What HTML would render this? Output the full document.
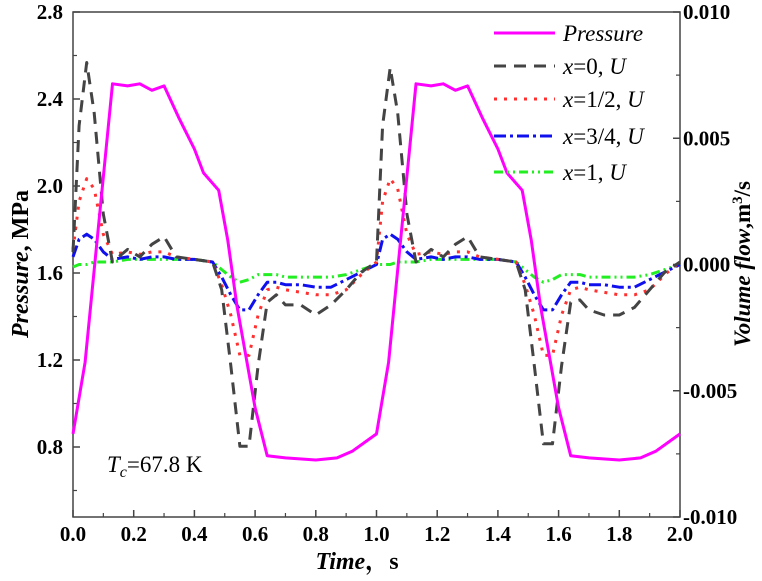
<!DOCTYPE html>
<html><head><meta charset="utf-8"><style>
body{margin:0;background:#fff;}
svg{display:block;font-family:"Liberation Serif","Noto Serif CJK SC",serif;}
.tk{font-size:21px;font-weight:bold;}
.lg{font-size:23px;}
</style></head><body>
<svg id="chart" width="762" height="581">
<rect x="73" y="12" width="607" height="505" fill="none" stroke="#444" stroke-width="1.5"/>
<g id="axes"></g>
<g id="series"></g>
<text x="357" y="569" text-anchor="middle" style="font-size:24px;font-weight:bold"><tspan font-style="italic">Time</tspan>，s</text>
<text transform="translate(28,264) rotate(-90)" text-anchor="middle" style="font-size:24px;font-weight:bold"><tspan font-style="italic">Pressure</tspan>, MPa</text>
<text transform="translate(750,264) rotate(-90)" text-anchor="middle" style="font-size:23px;font-weight:bold"><tspan font-style="italic">Volume flow</tspan>,m<tspan dy="-8" font-size="15">3</tspan><tspan dy="8">/s</tspan></text>
<text x="107" y="472" style="font-size:23px"><tspan font-style="italic">T</tspan><tspan font-style="italic" font-size="16" dy="5">c</tspan><tspan dy="-5">=67.8 K</tspan></text>
<g id="legend"></g>
</svg>
<script>
const timeP=[0,0.04,0.13,0.18,0.22,0.26,0.30,0.35,0.40,0.43,0.48,0.51,0.54,0.60,0.64,0.70,0.80,0.87,0.92,1.00,1.04,1.13,1.18,1.22,1.26,1.30,1.35,1.40,1.43,1.48,1.51,1.54,1.60,1.64,1.70,1.80,1.87,1.92,2.00];
const pressure=[0.86,1.19,2.47,2.46,2.47,2.44,2.46,2.31,2.17,2.06,1.98,1.75,1.45,0.98,0.76,0.75,0.74,0.75,0.78,0.86,1.19,2.47,2.46,2.47,2.44,2.46,2.31,2.17,2.06,1.98,1.75,1.45,0.98,0.76,0.75,0.74,0.75,0.78,0.86];
const timeU=[0,0.02,0.045,0.07,0.10,0.13,0.18,0.22,0.26,0.30,0.34,0.40,0.46,0.49,0.52,0.55,0.58,0.61,0.64,0.67,0.70,0.75,0.80,0.85,0.90,0.95,1.00,1.02,1.045,1.07,1.10,1.13,1.18,1.22,1.26,1.30,1.34,1.40,1.46,1.49,1.52,1.55,1.58,1.61,1.64,1.67,1.70,1.75,1.80,1.85,1.90,1.95,2.00];
const flowX0=[0.0005,0.0055,0.0080,0.0060,0.0020,0.0001,0.0006,0.0003,0.0008,0.0011,0.0003,0.0002,0.0001,-0.0010,-0.0040,-0.0072,-0.0072,-0.0040,-0.0015,-0.0012,-0.0016,-0.0016,-0.0020,-0.0016,-0.0010,-0.0003,0.0001,0.0055,0.0078,0.0060,0.0020,0.0001,0.0006,0.0003,0.0008,0.0011,0.0003,0.0002,0.0001,-0.0010,-0.0040,-0.0071,-0.0071,-0.0040,-0.0015,-0.0014,-0.0018,-0.0020,-0.0020,-0.0017,-0.0010,-0.0003,0.0001];
const flowX12=[0.0006,0.0025,0.0034,0.0030,0.0012,0.0004,0.0005,0.0004,0.0005,0.0005,0.0003,0.0002,0.0001,-0.0008,-0.0020,-0.0036,-0.0036,-0.0020,-0.0010,-0.0009,-0.0010,-0.0011,-0.0012,-0.0012,-0.0010,-0.0004,0.0001,0.0025,0.0034,0.0030,0.0012,0.0004,0.0005,0.0004,0.0005,0.0005,0.0003,0.0002,0.0001,-0.0008,-0.0020,-0.0036,-0.0036,-0.0020,-0.0010,-0.0009,-0.0010,-0.0011,-0.0012,-0.0012,-0.0010,-0.0004,0.0001];
const flowX34=[0.0003,0.0010,0.0012,0.0010,0.0005,0.0002,0.0003,0.0002,0.0003,0.0003,0.0002,0.0002,0.0001,-0.0005,-0.0012,-0.0018,-0.0018,-0.0012,-0.0007,-0.0007,-0.0008,-0.0008,-0.0009,-0.0009,-0.0006,-0.0003,0.0000,0.0010,0.0012,0.0010,0.0005,0.0002,0.0003,0.0002,0.0003,0.0003,0.0002,0.0002,0.0001,-0.0005,-0.0012,-0.0018,-0.0018,-0.0012,-0.0007,-0.0007,-0.0008,-0.0008,-0.0009,-0.0009,-0.0006,-0.0003,0.0000];
const flowX1=[-0.0001,0.0000,0.0000,0.0001,0.0001,0.0001,0.0002,0.0002,0.0002,0.0002,0.0002,0.0002,0.0001,-0.0002,-0.0005,-0.0007,-0.0006,-0.0004,-0.0004,-0.0004,-0.0005,-0.0005,-0.0005,-0.0005,-0.0004,-0.0002,0.0000,0.0000,0.0000,0.0001,0.0001,0.0001,0.0002,0.0002,0.0002,0.0002,0.0002,0.0002,0.0001,-0.0002,-0.0005,-0.0007,-0.0006,-0.0004,-0.0004,-0.0004,-0.0005,-0.0005,-0.0005,-0.0005,-0.0004,-0.0002,0.0000];
const xTicks=[0,0.2,0.4,0.6,0.8,1.0,1.2,1.4,1.6,1.8,2.0];
const yLeftTicks=[0.8,1.2,1.6,2.0,2.4,2.8];
const yRightTicks=[-0.010,-0.005,0,0.005,0.010];
const NS="http://www.w3.org/2000/svg";
const X=t=>73+t*303.5;
const YL=p=>12+(2.8-p)*217.5;
const YR=f=>12+(0.01-f)*25250;
function mk(tag,attrs,parent){const e=document.createElementNS(NS,tag);for(const k in attrs)e.setAttribute(k,attrs[k]);parent.appendChild(e);return e;}
const ax=document.getElementById('axes');
for(let i=0;i<xTicks.length;i++){
  const x=X(xTicks[i]);
  const t=mk('line',{x1:x,x2:x,y1:517,y2:510,stroke:'#444','stroke-width':1.5},ax);
  
  
  if(i<xTicks.length-1){const m=mk('line',{x1:X(xTicks[i]+0.1),x2:X(xTicks[i]+0.1),y1:517,y2:513,stroke:'#444','stroke-width':1.2},ax);
  
  }
  const l=mk('text',{x:x,y:541,'text-anchor':'middle',class:'tk'},ax);l.textContent=xTicks[i].toFixed(1);
  
  
}
for(const v of yLeftTicks){
  const y=YL(v);
  const t=mk('line',{x1:73,x2:80,y1:y,y2:y,stroke:'#444','stroke-width':1.5},ax);
  
  
  const m=mk('line',{x1:73,x2:77,y1:YL(v-0.2),y2:YL(v-0.2),stroke:'#444','stroke-width':1.2},ax);
  
  
  const l=mk('text',{x:63,y:y+7,'text-anchor':'end',class:'tk'},ax);l.textContent=v.toFixed(1);
  
  
}
for(const v of yRightTicks){
  const y=YR(v);
  const t=mk('line',{x1:673,x2:680,y1:y,y2:y,stroke:'#444','stroke-width':1.5},ax);
  
  
  if(v<0.01){const m=mk('line',{x1:676,x2:680,y1:YR(v+0.0025),y2:YR(v+0.0025),stroke:'#444','stroke-width':1.2},ax);
  
  }
  const l=mk('text',{x:683,y:y+7,class:'tk'},ax);l.textContent=v.toFixed(3);
  
  
}
const sg=document.getElementById('series');
function line(ts,vs,yf,color,dash,w,name){
  const d=ts.map((t,i)=>(i?'L':'M')+X(t).toFixed(1)+','+yf(vs[i]).toFixed(1)).join('');
  const p=mk('path',{d:d,fill:'none',stroke:color,'stroke-width':w,'stroke-dasharray':dash,'stroke-linejoin':'round'},sg);
  
  
}
line(timeU,flowX1,YR,'#22ee22','9 4 2 4 2 4',3,'series-x1-flow');
line(timeU,flowX34,YR,'#1010ee','12 4 3 4',3,'series-x34-flow');
line(timeU,flowX12,YR,'#ff3030','3 7',3,'series-x12-flow');
line(timeU,flowX0,YR,'#444','12 8',3,'series-x0-flow');
line(timeP,pressure,YL,'#ff00ff','',3,'series-pressure');
const lg=document.getElementById('legend');
const items=[['#ff00ff','',33,'<tspan font-style="italic">Pressure</tspan>','legend-pressure'],
['#444','12 8',66,'<tspan font-style="italic">x</tspan>=0, <tspan font-style="italic">U</tspan>','legend-x0'],
['#ff3030','3 7',99,'<tspan font-style="italic">x</tspan>=1/2, <tspan font-style="italic">U</tspan>','legend-x12'],
['#1010ee','12 4 3 4',136,'<tspan font-style="italic">x</tspan>=3/4, <tspan font-style="italic">U</tspan>','legend-x34'],
['#22ee22','9 4 2 4 2 4',172,'<tspan font-style="italic">x</tspan>=1, <tspan font-style="italic">U</tspan>','legend-x1']];
for(const it of items){
  const l=mk('line',{x1:494,x2:555,y1:it[2],y2:it[2],stroke:it[0],'stroke-width':3,'stroke-dasharray':it[1]},lg);
  
  
  const t=mk('text',{x:563,y:it[2]+8,class:'lg'},lg);t.innerHTML=it[3];
  
  
}
</script>
</body></html>
